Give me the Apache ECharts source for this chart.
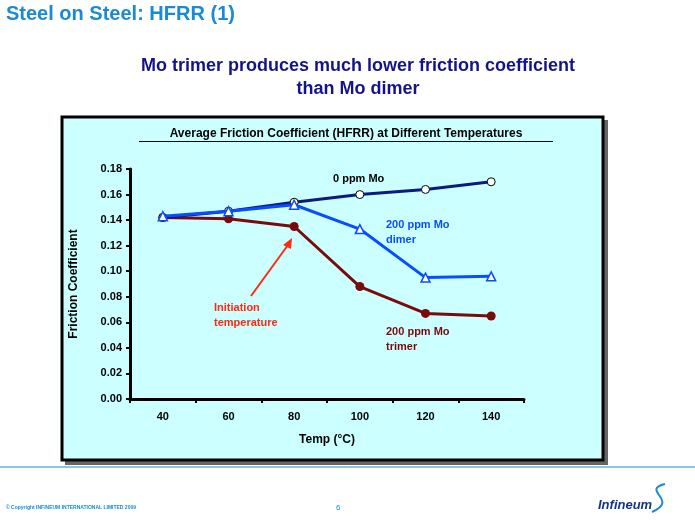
<!DOCTYPE html>
<html><head><meta charset="utf-8">
<script src="https://cdn.jsdelivr.net/npm/echarts@6/dist/echarts.min.js"></script>
<style>html,body{margin:0;padding:0;background:#fff}#c{width:695px;height:520px}</style>
</head><body><div id="c"></div>
<script>
var temps = ['40', '60', '80', '100', '120', '140'];
var mo0 = [0.142, 0.147, 0.154, 0.160, 0.164, 0.170];
var dimer = [0.143, 0.147, 0.152, 0.133, 0.095, 0.096];
var trimer = [0.142, 0.141, 0.135, 0.088, 0.067, 0.065];

var chart = echarts.init(document.getElementById('c'));
var F = 'Arial, Liberation Sans, sans-serif';
function txt(x, y, s, color, size, align) {
    return {type: 'text', x: x, y: y, z: 20, style: {text: s, fill: color, font: 'bold ' + size + 'px ' + F,
        align: align || 'left', verticalAlign: 'middle'}};
}
chart.setOption({
    animation: false,
    grid: {left: 130, top: 169, width: 394, height: 230},
    xAxis: {
        type: 'category', data: temps, boundaryGap: true,
        axisLine: {lineStyle: {color: '#000', width: 3}},
        axisTick: {show: true, length: 4, lineStyle: {color: '#000', width: 2}},
        axisLabel: {color: '#000', fontFamily: F, fontWeight: 'bold', fontSize: 11, margin: 12},
        name: 'Temp (°C)', nameLocation: 'middle', nameGap: 35,
        nameTextStyle: {color: '#000', fontFamily: F, fontWeight: 'bold', fontSize: 12}
    },
    yAxis: {
        type: 'value', min: 0, max: 0.18, interval: 0.02,
        splitLine: {show: false},
        axisLine: {show: true, lineStyle: {color: '#000', width: 3}},
        axisTick: {show: true, length: 4, lineStyle: {color: '#000', width: 2}},
        axisLabel: {color: '#000', fontFamily: F, fontWeight: 'bold', fontSize: 11,
            formatter: function (v) { return v.toFixed(2); }},
        name: 'Friction Coefficient', nameLocation: 'middle', nameGap: 50,
        nameTextStyle: {color: '#000', fontFamily: F, fontWeight: 'bold', fontSize: 12}
    },
    series: [
        {name: '0 ppm Mo', type: 'line', data: mo0, symbol: 'circle', symbolSize: 8,
            lineStyle: {color: '#0d1a80', width: 3},
            itemStyle: {color: '#fff', borderColor: '#000', borderWidth: 1}, z: 3},
        {name: 'dimer', type: 'line', data: dimer, symbol: 'triangle', symbolSize: 9,
            lineStyle: {color: '#0a4dff', width: 3},
            itemStyle: {color: '#fff', borderColor: '#0a4dff', borderWidth: 1.5}, z: 4},
        {name: 'trimer', type: 'line', data: trimer, symbol: 'circle', symbolSize: 9,
            lineStyle: {color: '#7a0b0b', width: 3},
            itemStyle: {color: '#7a0b0b'}, z: 2}
    ],
    graphic: [
        {type: 'rect', z: -10, shape: {x: 65, y: 120, width: 543, height: 345}, style: {fill: '#666'}},
        {type: 'rect', z: -9, shape: {x: 62, y: 117, width: 541, height: 343},
            style: {fill: '#ccffff', stroke: '#000', lineWidth: 3}},
        {type: 'line', z: 10, shape: {x1: 0, y1: 467, x2: 695, y2: 467}, style: {stroke: '#1a8ad4', lineWidth: 1}},
        txt(6, 14, 'Steel on Steel: HFRR (1)', '#1a8ad4', 20),
        txt(358, 66, 'Mo trimer produces much lower friction coefficient', '#14148a', 18, 'center'),
        txt(358, 89, 'than Mo dimer', '#14148a', 18, 'center'),
        txt(346, 134, 'Average Friction Coefficient (HFRR) at Different Temperatures', '#000', 12, 'center'),
        {type: 'line', shape: {x1: 139, y1: 141.5, x2: 553, y2: 141.5}, style: {stroke: '#000', lineWidth: 1}},
        txt(333, 179, '0 ppm Mo', '#000', 11),
        txt(386, 225, '200 ppm Mo', '#0a4dff', 11),
        txt(386, 240, 'dimer', '#0a4dff', 11),
        txt(386, 332, '200 ppm Mo', '#7a0b0b', 11),
        txt(386, 347, 'trimer', '#7a0b0b', 11),
        txt(214, 308, 'Initiation', '#ff2a10', 11),
        txt(214, 323, 'temperature', '#ff2a10', 11),
        {type: 'line', shape: {x1: 251, y1: 296, x2: 288, y2: 245}, style: {stroke: '#ff2a10', lineWidth: 2}},
        {type: 'polygon', shape: {points: [[292, 238], [283, 245], [291, 249]]}, style: {fill: '#ff2a10'}},
        {type: 'text', x: 6, y: 508, style: {text: '© Copyright INFINEUM INTERNATIONAL LIMITED 2009', fill: '#1a8ad4',
            font: 'bold 5px ' + F, verticalAlign: 'middle'}},
        {type: 'text', x: 336, y: 508, style: {text: '6', fill: '#1a8ad4', font: '8px ' + F, verticalAlign: 'middle'}},
        {type: 'text', x: 598, y: 505, style: {text: 'Infineum', fill: '#14348a', font: 'italic bold 13px ' + F, verticalAlign: 'middle'}},
        {type: 'bezierCurve', shape: {x1: 665, y1: 484, x2: 652, y2: 512, cpx1: 640, cpy1: 490, cpx2: 680, cpy2: 500},
            style: {stroke: '#1a8ad4', lineWidth: 2, fill: 'none'}}
    ]
});
</script></body></html>
